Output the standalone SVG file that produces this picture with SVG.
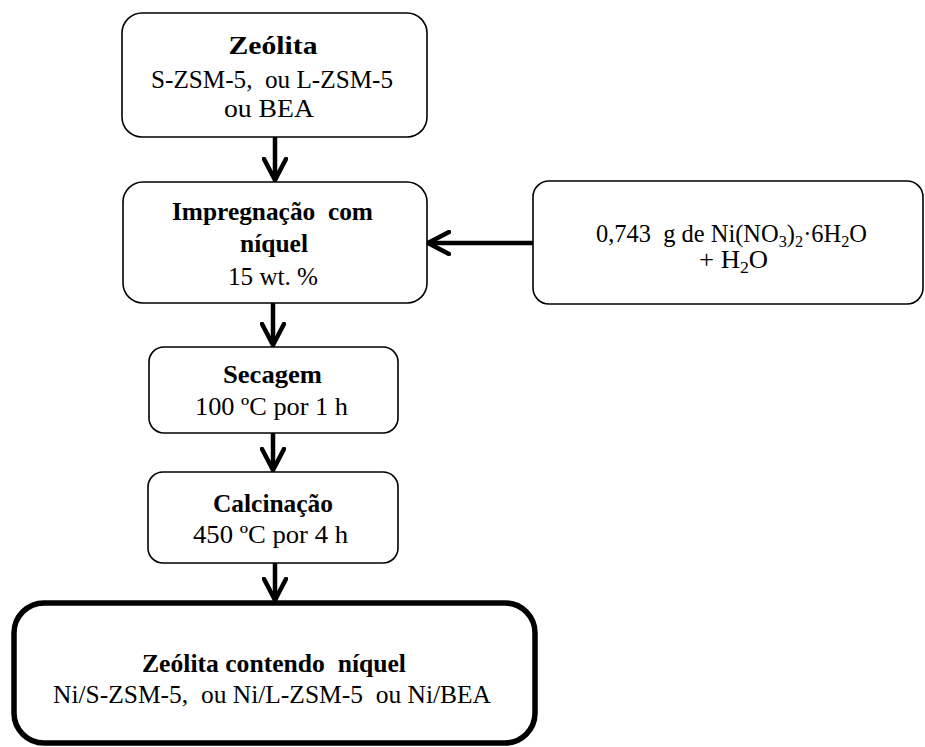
<svg xmlns="http://www.w3.org/2000/svg" width="925" height="747" viewBox="0 0 925 747">
  <style>
    .box { fill: #ffffff; stroke: #000000; stroke-width: 1.6; }
    .box-final { fill: #ffffff; stroke: #000000; stroke-width: 5.5; }
    text { font-family: 'Liberation Serif', 'Times New Roman', Times, serif; font-size: 25.5px; fill: #000000; text-anchor: middle; }
    .b { font-weight: bold; }
    .sub { font-size: 17px; }
    .wire { fill: none; stroke: #000000; stroke-width: 4.5; stroke-linecap: round; stroke-linejoin: round; }
  </style>
  <defs>
    <marker id="chevron" viewBox="0 0 26 26" refX="23" refY="13" markerWidth="26" markerHeight="26" markerUnits="userSpaceOnUse" orient="auto">
      <path d="M2,2 L23,13 L2,24" fill="none" stroke="#000000" stroke-width="4.5" stroke-linecap="round" stroke-linejoin="round"/>
    </marker>
  </defs>

  <!-- process flow connectors -->
  <g id="connectors">
    <line class="wire" x1="275" y1="138" x2="275" y2="180" marker-end="url(#chevron)"/>
    <line class="wire" x1="533" y1="243" x2="428" y2="243" marker-end="url(#chevron)"/>
    <line class="wire" x1="273" y1="304" x2="273" y2="345" marker-end="url(#chevron)"/>
    <line class="wire" x1="273" y1="434" x2="273" y2="470" marker-end="url(#chevron)"/>
    <line class="wire" x1="275" y1="564" x2="275" y2="600" marker-end="url(#chevron)"/>
  </g>

  <g id="zeolita">
    <rect class="box" x="122" y="13" width="305" height="124" rx="20" ry="20"/>
    <text class="b" x="273" y="54" textLength="89" lengthAdjust="spacingAndGlyphs">Zeólita</text>
    <text x="272" y="88" textLength="242" lengthAdjust="spacingAndGlyphs" xml:space="preserve">S-ZSM-5,  ou L-ZSM-5</text>
    <text x="269" y="117" textLength="90" lengthAdjust="spacingAndGlyphs">ou BEA</text>
  </g>

  <g id="impregnacao">
    <rect class="box" x="123" y="182" width="304" height="121" rx="20" ry="20"/>
    <text class="b" x="272.5" y="220" textLength="201" lengthAdjust="spacingAndGlyphs" xml:space="preserve">Impregnação  com</text>
    <text class="b" x="274" y="252" textLength="68" lengthAdjust="spacingAndGlyphs">níquel</text>
    <text x="273" y="285" textLength="90" lengthAdjust="spacingAndGlyphs">15 wt. %</text>
  </g>

  <g id="solucao">
    <rect class="box" x="533" y="181" width="390" height="123" rx="16" ry="16"/>
    <text x="731.5" y="242" textLength="271" lengthAdjust="spacingAndGlyphs" xml:space="preserve">0,743  g de Ni(NO<tspan class="sub" dy="5">3</tspan><tspan dy="-5">)</tspan><tspan class="sub" dy="5">2</tspan><tspan dy="-5">·6H</tspan><tspan class="sub" dy="5">2</tspan><tspan dy="-5">O</tspan></text>
    <text x="733.5" y="268" textLength="69" lengthAdjust="spacingAndGlyphs">+ H<tspan class="sub" dy="5">2</tspan><tspan dy="-5">O</tspan></text>
  </g>

  <g id="secagem">
    <rect class="box" x="149" y="347" width="249" height="86" rx="15" ry="15"/>
    <text class="b" x="272.5" y="383" textLength="99" lengthAdjust="spacingAndGlyphs">Secagem</text>
    <text x="271.5" y="415" textLength="153" lengthAdjust="spacingAndGlyphs">100 ºC por 1 h</text>
  </g>

  <g id="calcinacao">
    <rect class="box" x="148" y="472" width="250" height="91" rx="15" ry="15"/>
    <text class="b" x="273" y="512" textLength="120" lengthAdjust="spacingAndGlyphs">Calcinação</text>
    <text x="270.5" y="543" textLength="155" lengthAdjust="spacingAndGlyphs">450 ºC por 4 h</text>
  </g>

  <g id="zeolita-niquel">
    <rect class="box-final" x="14" y="603" width="521" height="140" rx="30" ry="30"/>
    <text class="b" x="274" y="672" textLength="264" lengthAdjust="spacingAndGlyphs" xml:space="preserve">Zeólita contendo  níquel</text>
    <text x="272" y="703" textLength="438" lengthAdjust="spacingAndGlyphs" xml:space="preserve">Ni/S-ZSM-5,  ou Ni/L-ZSM-5  ou Ni/BEA</text>
  </g>
</svg>
